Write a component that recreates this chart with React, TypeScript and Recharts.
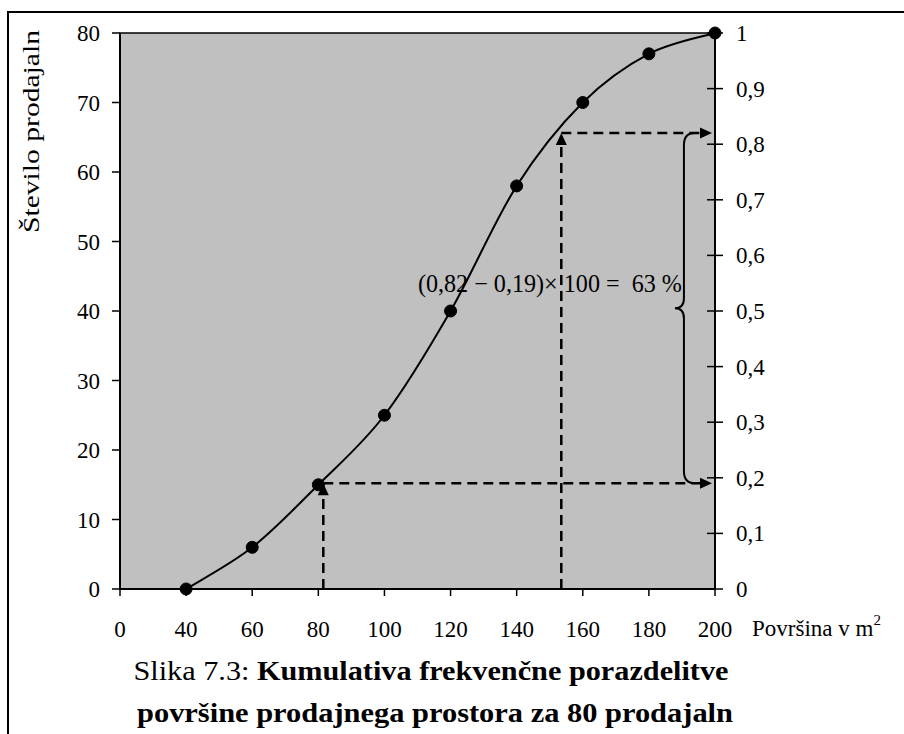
import { LineChart, Line, XAxis, YAxis, ReferenceArea, ReferenceLine } from "recharts"

// x axis: evenly spaced tick labels (area in m2)
const areaTicks = ["0", "40", "60", "80", "100", "120", "140", "160", "180", "200"]
const areas = [40, 60, 80, 100, 120, 140, 160, 180, 200]
const shopCounts = [0, 6, 15, 25, 40, 58, 70, 77, 80]
const countTicks = [0, 10, 20, 30, 40, 50, 60, 70, 80]
const shareTicks = [0, 0.1, 0.2, 0.3, 0.4, 0.5, 0.6, 0.7, 0.8, 0.9, 1]

// read-off points shown with the dashed arrows
const readAreas = [81.5, 153.5]
const readShares = [0.19, 0.82]

const FONT = "'Liberation Serif', 'Times New Roman', serif"
const comma = (v: number) => String(v).replace(".", ",")

// the x axis is drawn with equal spacing between labels, so map an area to its slot
const toPos = (a: number) => {
  const vals = areaTicks.map(Number)
  for (let i = 1; i < vals.length; i++) {
    if (a <= vals[i]) return i - 1 + (a - vals[i - 1]) / (vals[i] - vals[i - 1])
  }
  return vals.length - 1
}

const total = shopCounts[shopCounts.length - 1]
const data = areas.map((a, i) => ({ pos: toPos(a), count: shopCounts[i], share: shopCounts[i] / total }))
const lastPos = areaTicks.length - 1
const bracePos = 8.53

// excel-like smoothed line (catmull-rom through the points)
const smoothCurve = (context: any) => {
  let pts: number[][] = []
  return {
    areaStart() {},
    areaEnd() {},
    lineStart() {
      pts = []
    },
    lineEnd() {
      if (!pts.length) return
      context.moveTo(pts[0][0], pts[0][1])
      for (let i = 0; i < pts.length - 1; i++) {
        const p0 = pts[i - 1] || pts[i]
        const p1 = pts[i]
        const p2 = pts[i + 1]
        const p3 = pts[i + 2] || p2
        context.bezierCurveTo(
          p1[0] + (p2[0] - p0[0]) / 6,
          p1[1] + (p2[1] - p0[1]) / 6,
          p2[0] - (p3[0] - p1[0]) / 6,
          p2[1] - (p3[1] - p1[1]) / 6,
          p2[0],
          p2[1]
        )
      }
    },
    point(x: number, y: number) {
      pts.push([x, y])
    },
  }
}

const arrowShape = (gap: number) => (p: any) => {
  const { x1, y1, x2, y2 } = p
  const dx = x2 - x1
  const dy = y2 - y1
  const len = Math.hypot(dx, dy) || 1
  const ux = dx / len
  const uy = dy / len
  const tx = x2 - ux * gap
  const ty = y2 - uy * gap
  const hl = 12
  const hw = 5.5
  const bx = tx - ux * hl
  const by = ty - uy * hl
  return (
    <g>
      <line x1={x1} y1={y1} x2={bx} y2={by} stroke="#000" strokeWidth={2.5} strokeDasharray="10 6" />
      <polygon
        points={`${tx},${ty} ${bx - uy * hw},${by + ux * hw} ${bx + uy * hw},${by - ux * hw}`}
        fill="#000"
      />
    </g>
  )
}

const braceShape = (p: any) => {
  const { x1, y1, y2 } = p
  const top = Math.min(y1, y2)
  const bot = Math.max(y1, y2)
  const mid = (top + bot) / 2
  const x = x1
  const d = `M ${x + 11} ${top} Q ${x} ${top} ${x} ${top + 12} L ${x} ${mid - 10} Q ${x} ${mid} ${x - 9} ${mid} Q ${x} ${mid} ${x} ${mid + 10} L ${x} ${bot - 12} Q ${x} ${bot} ${x + 11} ${bot}`
  const pct = Math.round((readShares[1] - readShares[0]) * 100)
  return (
    <g>
      <path d={d} fill="none" stroke="#000" strokeWidth={2} />
      <text
        x={x - 2}
        y={mid - 16}
        textAnchor="end"
        fontFamily={FONT}
        fontSize={25}
        fill="#000"
        textLength={264}
        lengthAdjust="spacingAndGlyphs"
      >
        {`(${comma(readShares[1])} − ${comma(readShares[0])})× 100 =\u00a0 ${pct} %`}
      </text>
    </g>
  )
}

// right axis tick: tick line crosses the axis
const shareTick = (p: any) => {
  const { x, y, payload } = p
  return (
    <g>
      <line x1={x - 29} y1={y} x2={x - 21} y2={y} stroke="#000" strokeWidth={1.5} />
      <text x={x} y={y} dy="0.35em" textAnchor="start" fontFamily={FONT} fontSize={23} fill="#000">
        {comma(payload.value)}
      </text>
    </g>
  )
}

const tickStyle = { fill: "#000", fontSize: 23, fontFamily: FONT }

export default function App() {
  return (
    <div style={{ position: "absolute", left: 0, top: 0, width: 904, height: 734, background: "#fff", overflow: "hidden" }}>
      <div
        style={{
          position: "absolute",
          left: 7,
          top: 11,
          width: 920,
          height: 760,
          borderLeft: "2px solid #000",
          borderTop: "2px solid #000",
        }}
      />
      <div style={{ position: "absolute", left: 0, top: 0 }}>
        <LineChart width={904} height={734} data={data} margin={{ top: 33, right: 129, bottom: 105, left: 60 }}>
          <XAxis
            dataKey="pos"
            type="number"
            domain={[0, lastPos]}
            ticks={areaTicks.map((_, i) => i)}
            interval={0}
            tickFormatter={(i: number) => areaTicks[i]}
            height={40}
            tickSize={7}
            tickMargin={25}
            tick={tickStyle}
            axisLine={{ stroke: "#000", strokeWidth: 2 }}
            tickLine={{ stroke: "#000", strokeWidth: 1.5 }}
          />
          <YAxis
            yAxisId="left"
            domain={[0, 80]}
            ticks={countTicks}
            interval={0}
            width={60}
            tickSize={8}
            tickMargin={12}
            tick={tickStyle}
            axisLine={{ stroke: "#000", strokeWidth: 2 }}
            tickLine={{ stroke: "#000", strokeWidth: 1.5 }}
          />
          <YAxis
            yAxisId="right"
            orientation="right"
            domain={[0, 1]}
            allowDataOverflow
            ticks={shareTicks}
            interval={0}
            width={60}
            tickSize={8}
            tickMargin={13}
            tick={shareTick}
            axisLine={{ stroke: "#000", strokeWidth: 2 }}
            tickLine={{ stroke: "#000", strokeWidth: 1.5 }}
          />
          <ReferenceArea
            yAxisId="left"
            x1={0}
            x2={lastPos}
            y1={0}
            y2={80}
            fill="#c0c0c0"
            fillOpacity={1}
            stroke="#000"
            strokeWidth={1.5}
          />
          {/* share series only carries the right axis */}
          <Line
            yAxisId="right"
            type="linear"
            dataKey="share"
            stroke="none"
            dot={false}
            activeDot={false}
            isAnimationActive={false}
          />
          {/* dashed read-off arrows */}
          <ReferenceLine
            yAxisId="right"
            segment={[{ x: toPos(readAreas[0]), y: 0 }, { x: toPos(readAreas[0]), y: readShares[0] }]}
            shape={arrowShape(0)}
          />
          <ReferenceLine
            yAxisId="right"
            segment={[{ x: toPos(readAreas[0]), y: readShares[0] }, { x: lastPos, y: readShares[0] }]}
            shape={arrowShape(3)}
          />
          <ReferenceLine
            yAxisId="right"
            segment={[{ x: toPos(readAreas[1]), y: 0 }, { x: toPos(readAreas[1]), y: readShares[1] }]}
            shape={arrowShape(0)}
          />
          <ReferenceLine
            yAxisId="right"
            segment={[{ x: toPos(readAreas[1]), y: readShares[1] }, { x: lastPos, y: readShares[1] }]}
            shape={arrowShape(3)}
          />
          <ReferenceLine
            yAxisId="right"
            segment={[{ x: bracePos, y: readShares[0] }, { x: bracePos, y: readShares[1] }]}
            shape={braceShape}
          />
          <Line
            yAxisId="left"
            type={smoothCurve as any}
            dataKey="count"
            stroke="#000"
            strokeWidth={2}
            dot={{ r: 6, fill: "#000", stroke: "#000", strokeWidth: 1 }}
            activeDot={false}
            isAnimationActive={false}
          />
        </LineChart>
      </div>
      <svg width={904} height={734} style={{ position: "absolute", left: 0, top: 0, pointerEvents: "none" }}>
        <text
          transform="translate(39,131.5) rotate(-90)"
          textAnchor="middle"
          fontFamily={FONT}
          fontSize={24}
          fill="#000"
          textLength={203}
          lengthAdjust="spacingAndGlyphs"
        >
          Število prodajaln
        </text>
        <text x={752} y={636} fontFamily={FONT} fontSize={23} fill="#000">
          Površina v m
          <tspan dy={-11} fontSize={15}>2</tspan>
        </text>
        <text
          x={431}
          y={680}
          textAnchor="middle"
          fontFamily={FONT}
          fontSize={28}
          fill="#000"
          textLength={595}
          lengthAdjust="spacingAndGlyphs"
        >
          Slika 7.3: <tspan fontWeight="bold">Kumulativa frekvenčne porazdelitve</tspan>
        </text>
        <text
          x={435}
          y={722}
          textAnchor="middle"
          fontFamily={FONT}
          fontSize={28}
          fontWeight="bold"
          fill="#000"
          textLength={596}
          lengthAdjust="spacingAndGlyphs"
        >
          površine prodajnega prostora za 80 prodajaln
        </text>
      </svg>
    </div>
  )
}
